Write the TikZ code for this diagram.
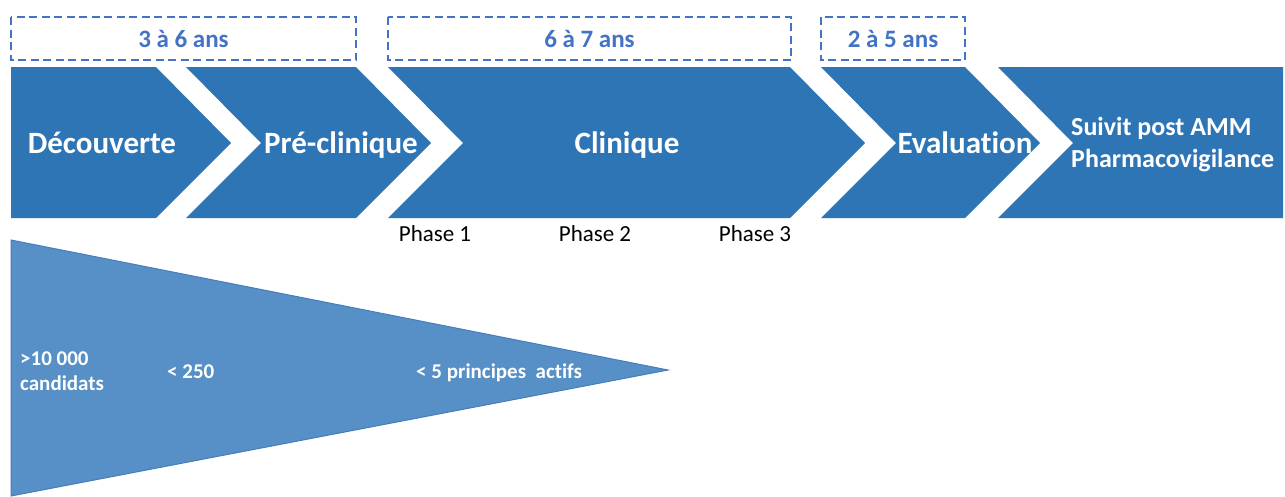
\documentclass[tikz,border=0pt]{standalone}
\usepackage{fontspec}
\setmainfont[Ligatures=NoCommon]{Carlito}
\definecolor{chev}{RGB}{46,117,182}
\definecolor{tri}{RGB}{86,144,199}
\definecolor{triedge}{RGB}{70,125,188}
\definecolor{dashblue}{RGB}{68,114,196}
\begin{document}
\begin{tikzpicture}[x=1pt,y=-1pt,
  chevshape/.style={fill=chev,draw=none},
  dashbox/.style={draw=dashblue,line width=2.6pt,dash pattern=on 8pt off 4.5pt},
  dashlbl/.style={text=dashblue,font=\fontsize{25}{30}\selectfont\bfseries,anchor=base},
  mainlbl/.style={text=white,font=\fontsize{31}{36}\selectfont\bfseries,anchor=base,inner sep=0pt},
  phaselbl/.style={text=black,font=\fontsize{23}{28}\selectfont,anchor=base,inner sep=0pt},
  trilbl/.style={text=white,font=\fontsize{21}{25}\selectfont\bfseries,anchor=base west,inner sep=0pt}]
\useasboundingbox (0,0) rectangle (1285,496);
% dashed duration boxes
\draw[dashbox] (11,17) rectangle (356,60);
\draw[dashbox] (388,17) rectangle (791,60);
\draw[dashbox] (821,17) rectangle (965,60);
\node[dashlbl] (d1) at (183.5,47) {3 à 6 ans};
\node[dashlbl] (d2) at (589.5,47) {6 à 7 ans};
\node[dashlbl] (d3) at (893,47) {2 à 5 ans};
% chevrons
\fill[chevshape] (11,67) -- (156,67) -- (231,143) -- (156,218) -- (11,218) -- cycle;
\fill[chevshape] (186,67) -- (356,67) -- (431,143) -- (356,218) -- (186,218) -- (261,143) -- cycle;
\fill[chevshape] (388,67) -- (790,67) -- (865,143) -- (790,218) -- (388,218) -- (463,143) -- cycle;
\fill[chevshape] (821,67) -- (965,67) -- (1040,143) -- (965,218) -- (821,218) -- (896,143) -- cycle;
\fill[chevshape] (998,67) -- (1283,67) -- (1283,218) -- (998,218) -- (1073,143) -- cycle;
\node[mainlbl] (c1) at (102,153) {Découverte};
\node[mainlbl] (c2) at (341,153) {Pré-clinique};
\node[mainlbl] (c3) at (627,153) {Clinique};
\node[mainlbl] (c4) at (965,153) {Evaluation};
\node[text=white,font=\fontsize{26}{32}\selectfont\bfseries,anchor=base west,inner sep=0pt] (c5a) at (1071,135) {Suivit post AMM};
\node[text=white,font=\fontsize{26}{32}\selectfont\bfseries,anchor=base west,inner sep=0pt] (c5b) at (1071,167) {Pharmacovigilance};
% phases
\node[phaselbl] (p1) at (435,241) {Phase 1};
\node[phaselbl] (p2) at (595,241) {Phase 2};
\node[phaselbl] (p3) at (755,241) {Phase 3};
% funnel triangle
\filldraw[fill=tri,draw=triedge,line width=1pt] (11,240) -- (668,370) -- (11,496) -- cycle;
\node[trilbl] (t1) at (20,365) {>10 000};
\node[trilbl] (t2) at (20,390) {candidats};
\node[trilbl] (t3) at (167,378) {< 250};
\node[trilbl] (t4) at (416,378) {< 5 principes\ \ actifs};
\end{tikzpicture}
\end{document}
